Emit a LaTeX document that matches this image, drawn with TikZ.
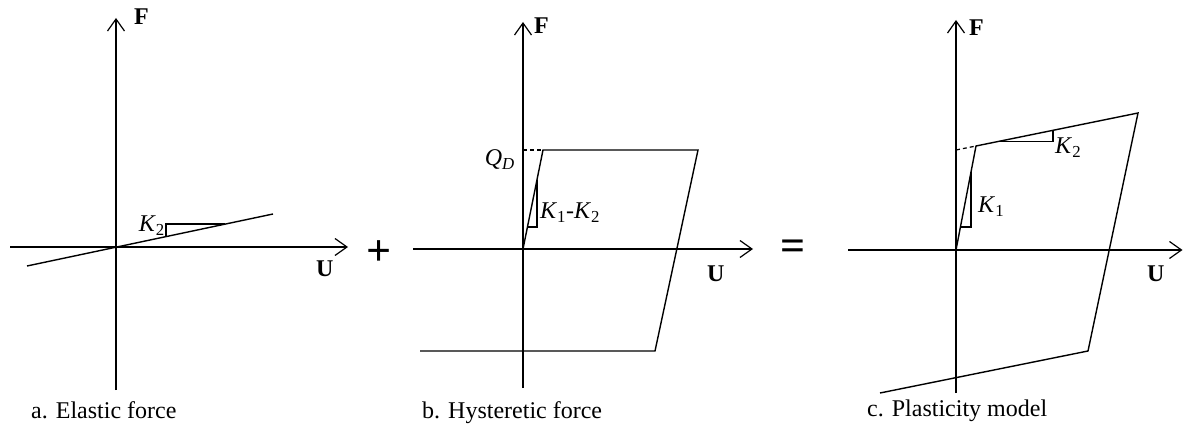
\documentclass[tikz,border=0pt]{standalone}
\usepackage{fontspec}
\setmainfont{Liberation Serif}
\usetikzlibrary{arrows.meta}
\tikzset{
  axisln/.style={line width=1.3pt,-{Straight Barb[length=12pt,width=17pt,line width=1.2pt]}},
  curveln/.style={line width=1.4pt, line join=miter},
  triln/.style={line width=1.2pt},
  extln/.style={line width=1.2pt, dash pattern=on 4pt off 3pt},
  lbl/.style={inner sep=0pt, font=\fontsize{24}{28}\selectfont},
  axlbl/.style={inner sep=0pt, font=\fontsize{24}{28}\selectfont\bfseries},
  captxt/.style={inner sep=0pt, font=\fontsize{24}{28}\selectfont},
  opsym/.style={inner sep=0pt, font=\fontsize{44}{48}\selectfont\bfseries}
}
\begin{document}
\begin{tikzpicture}[x=1pt,y=-1pt]
\useasboundingbox (0,0) rectangle (1183,427);
\fill[white] (0,0) rectangle (1183,427);

% ---------- panel a ----------
\coordinate (aO) at (116,247);
\coordinate (aFt) at (116,18);
\coordinate (aFb) at (116,390);
\coordinate (aUl) at (10,247);
\coordinate (aUr) at (348,247);
\draw[axisln] (aFb) -- (aFt);
\draw[axisln] (aUl) -- (aUr);
\coordinate (aL1) at (27,266);
\coordinate (aL2) at (273,214);
\draw[curveln] (aL1) -- (aL2);
\coordinate (aT1) at (166,236.4);
\coordinate (aT2) at (166,224);
\coordinate (aT3) at (225,224);
\draw[triln] (aT1) -- (aT2) -- (aT3);
\node[axlbl, anchor=base west] (aF) at (134,25) {F};
\node[axlbl, anchor=base west] (aU) at (316,277) {U};
\node[lbl, anchor=base east] (aK) at (165,232) {\textit{K}\textsubscript{2}};
\node[captxt, anchor=base west] (acap) at (31,418) {a. Elastic force};
\node[opsym] (plus) at (379,253) {+};

% ---------- panel b ----------
\coordinate (bO) at (523,249);
\coordinate (bFt) at (523,22);
\coordinate (bFb) at (523,388);
\coordinate (bUl) at (413,249);
\coordinate (bUr) at (753,249);
\draw[axisln] (bFb) -- (bFt);
\draw[axisln] (bUl) -- (bUr);
\coordinate (bQ) at (523,150);
\coordinate (bP1) at (543,150);
\coordinate (bP2) at (698,150);
\coordinate (bP3) at (655,351);
\coordinate (bP4) at (420,351);
\draw[curveln] (bO) -- (bP1) -- (bP2) -- (bP3) -- (bP4);
\draw[extln] (bQ) -- (bP1);
\coordinate (bT1) at (537,180);
\coordinate (bT2) at (537,227);
\coordinate (bT3) at (527.4,227);
\draw[triln] (bT1) -- (bT2) -- (bT3);
\node[axlbl, anchor=base west] (bF) at (534,34) {F};
\node[axlbl, anchor=base west] (bU) at (707,282) {U};
\node[lbl, anchor=base east] (bQD) at (515,166) {\textit{Q}\textsubscript{\textit{D}}};
\node[lbl, anchor=base west] (bK) at (540,219) {\textit{K}\textsubscript{1}-\textit{K}\textsubscript{2}};
\node[captxt, anchor=base west] (bcap) at (422,418) {b. Hysteretic force};
\node[opsym] (eq) at (793,250) {=};

% ---------- panel c ----------
\coordinate (cO) at (956,250);
\coordinate (cFt) at (956,20);
\coordinate (cFb) at (956,393);
\coordinate (cUl) at (848,250);
\coordinate (cUr) at (1182.5,250);
\draw[axisln] (cFb) -- (cFt);
\draw[axisln] (cUl) -- (cUr);
\coordinate (cQ) at (956,150);
\coordinate (cP1) at (976,146);
\coordinate (cP2) at (1138,113);
\coordinate (cP3) at (1088,351);
\coordinate (cP4) at (880,393);
\draw[curveln] (cO) -- (cP1) -- (cP2) -- (cP3) -- (cP4);
\draw[extln] (cQ) -- (cP1);
\coordinate (cK2a) at (997,141.7);
\coordinate (cK2b) at (1053,141.7);
\coordinate (cK2c) at (1053,130.3);
\draw[triln] (cK2a) -- (cK2b) -- (cK2c);
\coordinate (cK1a) at (971,172);
\coordinate (cK1b) at (971,227);
\coordinate (cK1c) at (960.4,227);
\draw[triln] (cK1a) -- (cK1b) -- (cK1c);
\node[axlbl, anchor=base west] (cF) at (969,36) {F};
\node[axlbl, anchor=base west] (cU) at (1147,282) {U};
\node[lbl, anchor=base west] (cK2) at (1055,154) {\textit{K}\textsubscript{2}};
\node[lbl, anchor=base west] (cK1) at (978,213) {\textit{K}\textsubscript{1}};
\node[captxt, anchor=base west] (ccap) at (867,416) {c. Plasticity model};
\end{tikzpicture}
\end{document}
